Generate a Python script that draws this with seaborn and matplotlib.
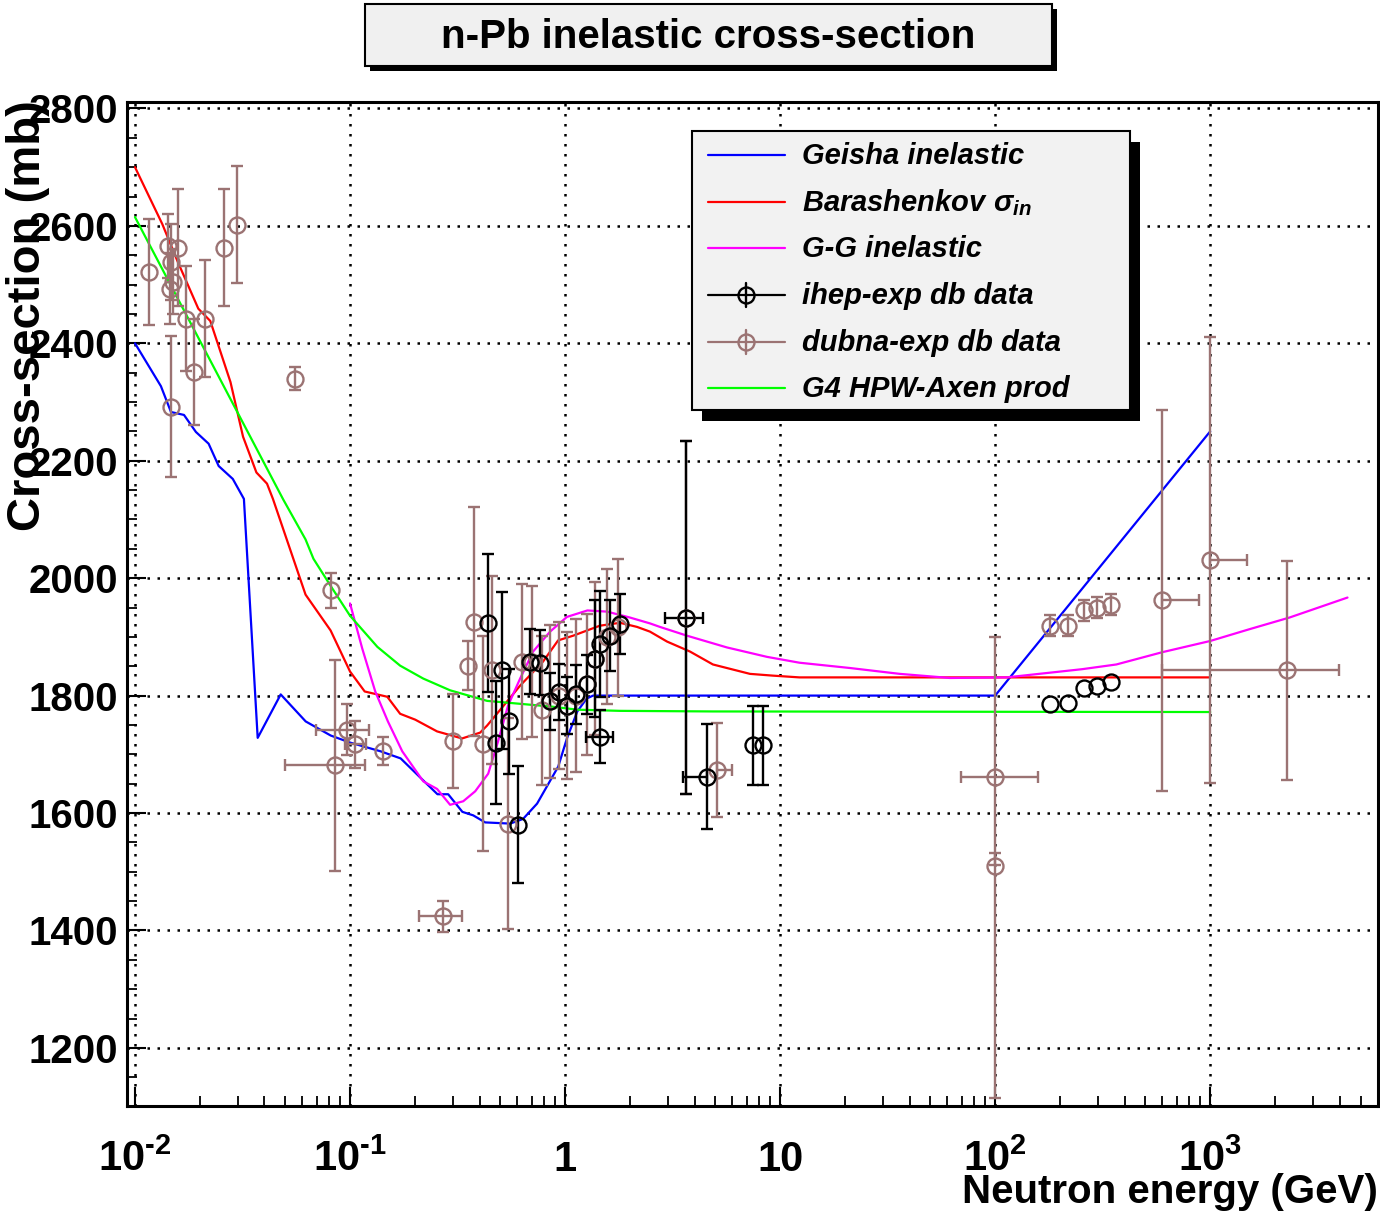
import numpy as np
import matplotlib
matplotlib.use("Agg")
import matplotlib.pyplot as plt
import matplotlib.ticker as mticker
from matplotlib import font_manager
from matplotlib.patches import Rectangle
from matplotlib.lines import Line2D
import seaborn as sns

# ---------------------------------------------------------------- model curves
geisha_e = [0.010, 0.0132, 0.0147, 0.0169, 0.0192, 0.0220, 0.0245, 0.0285, 0.0321,
            0.0372, 0.0476, 0.0622, 0.0813, 0.100, 0.139, 0.172, 0.224, 0.255, 0.286,
            0.333, 0.374, 0.425, 0.556, 0.638, 0.741, 0.929, 1.02, 1.14, 1.26, 1.35,
            100.0, 1000.0]
geisha_xs = [2400, 2327, 2283, 2278, 2249, 2229, 2191, 2169, 2135,
             1728, 1802, 1756, 1732, 1720, 1705, 1693, 1652, 1632, 1632,
             1602, 1596, 1584, 1582, 1590, 1616, 1679, 1727, 1773, 1795, 1800,
             1800, 2250]

barash_e = [0.0100, 0.0134, 0.0158, 0.0197, 0.0224, 0.0278, 0.0318, 0.0367, 0.0411,
            0.0438, 0.0621, 0.0812, 0.100, 0.117, 0.149, 0.171, 0.201, 0.254, 0.332,
            0.403, 0.434, 0.513, 0.618, 0.790, 0.928, 1.09, 1.45, 1.80, 2.16, 2.48,
            2.98, 3.81, 4.87, 7.24, 9.25, 12.3, 1000.0]
barash_xs = [2700, 2603, 2539, 2459, 2438, 2334, 2241, 2180, 2161,
             2135, 1972, 1911, 1841, 1807, 1798, 1769, 1759, 1739, 1727,
             1737, 1749, 1781, 1817, 1858, 1894, 1902, 1919, 1924, 1917, 1909,
             1892, 1875, 1853, 1837, 1834, 1831, 1831]

gg_e = [0.100, 0.114, 0.131, 0.150, 0.175, 0.219, 0.254, 0.292, 0.336, 0.382, 0.439,
        0.488, 0.543, 0.618, 0.710, 0.852, 1.02, 1.27, 1.57, 2.00, 2.48, 2.76, 3.69,
        5.66, 8.68, 12.3, 21.1, 36.0, 61.6, 113.0, 254.0, 366.0, 600.0, 1000.0,
        1520.0, 2340.0, 4350.0]
gg_xs = [1957, 1880, 1807, 1756, 1705, 1654, 1641, 1614, 1620, 1637, 1667,
         1722, 1783, 1829, 1875, 1909, 1934, 1945, 1943, 1933, 1923, 1917, 1902,
         1882, 1866, 1856, 1847, 1837, 1830, 1831, 1845, 1853, 1874, 1893,
         1913, 1933, 1967]

axen_e = [0.0100, 0.0489, 0.0621, 0.0676, 0.0812, 0.100, 0.134, 0.171, 0.219, 0.292,
          0.434, 0.618, 0.880, 1.14, 1.80, 4.87, 1000.0]
axen_xs = [2615, 2134, 2066, 2033, 1987, 1936, 1883, 1851, 1829, 1809,
           1791, 1786, 1781, 1776, 1774, 1773, 1772]

# ---------------------------------------------------------------- measurements
# energy (GeV), cross-section (mb), lower/upper y errors, lower/upper energy bounds
dubna_e = [0.0116, 0.0142, 0.0145, 0.0147, 0.0150, 0.0159, 0.0147, 0.0172, 0.0188,
           0.0211, 0.0259, 0.0297, 0.0553, 0.082, 0.0847, 0.0964, 0.106, 0.1416, 0.272,
           0.302, 0.355, 0.378, 0.416, 0.458, 0.544, 0.631, 0.70, 0.78, 0.85, 0.94,
           1.02, 1.12, 1.26, 1.38, 1.57, 1.76, 3.64, 5.07,
           100.0, 100.0, 180.0, 218.0, 259.0, 297.0, 345.0, 596.0, 1000.0, 2265.0]
dubna_xs = [2522, 2566, 2493, 2539, 2505, 2563, 2292, 2442, 2351,
            2442, 2563, 2602, 2340, 1979, 1681, 1742, 1717, 1706, 1424,
            1722, 1851, 1926, 1718, 1843, 1582, 1858, 1858, 1775, 1790, 1800,
            1783, 1800, 1819, 1863, 1900, 1916, 1933, 1673,
            1662, 1510, 1919, 1919, 1945, 1950, 1955, 1962, 2031, 1843]
dubna_dlo = [90, 55, 60, 65, 55, 100, 120, 90, 90,
             100, 100, 100, 20, 29, 180, 44, 40, 24, 27,
             80, 42, 195, 183, 160, 180, 132, 128, 127, 130, 125,
             125, 130, 120, 130, 115, 117, 300, 80,
             150, 395, 18, 18, 18, 18, 18, 325, 380, 187]
dubna_dhi = [90, 55, 60, 65, 55, 100, 120, 90, 90,
             100, 100, 100, 20, 29, 180, 44, 40, 24, 27,
             80, 42, 195, 183, 160, 180, 132, 128, 127, 130, 125,
             125, 130, 120, 130, 115, 117, 300, 80,
             238, 22, 18, 18, 18, 18, 18, 325, 380, 187]
dubna_elo = [0.0116, 0.0142, 0.0145, 0.0147, 0.0150, 0.0159, 0.0147, 0.0172, 0.0188,
             0.0211, 0.0259, 0.0297, 0.0553, 0.082, 0.0498, 0.0694, 0.095, 0.1416, 0.21,
             0.302, 0.355, 0.378, 0.416, 0.458, 0.544, 0.631, 0.70, 0.78, 0.85, 0.94,
             1.02, 1.12, 1.26, 1.38, 1.57, 1.76, 3.64, 5.07,
             69.5, 100.0, 180.0, 218.0, 259.0, 297.0, 345.0, 596.0, 1000.0, 596.0]
dubna_ehi = [0.0116, 0.0142, 0.0145, 0.0147, 0.0150, 0.0159, 0.0147, 0.0172, 0.0188,
             0.0211, 0.0259, 0.0297, 0.0553, 0.082, 0.117, 0.122, 0.119, 0.1416, 0.333,
             0.302, 0.355, 0.378, 0.416, 0.458, 0.544, 0.631, 0.70, 0.78, 0.85, 0.94,
             1.02, 1.12, 1.26, 1.38, 1.57, 1.76, 3.64, 6.0,
             158.0, 100.0, 180.0, 218.0, 259.0, 297.0, 345.0, 885.0, 1476.0, 3960.0]

ihep_e = [0.44, 0.478, 0.51, 0.55, 0.605, 0.688, 0.766, 0.852, 0.938, 1.02, 1.12,
          1.26, 1.38, 1.45, 1.62, 1.80, 1.45, 3.64, 4.56, 7.45, 8.29,
          180.0, 218.0, 259.0, 297.0, 345.0]
ihep_xs = [1924, 1720, 1843, 1756, 1580, 1858, 1856, 1790, 1806, 1783, 1802,
           1819, 1863, 1888, 1902, 1922, 1730, 1933, 1662, 1715, 1715,
           1786, 1788, 1813, 1817, 1824]
ihep_dy = [118, 105, 134, 90, 100, 55, 55, 48, 48, 48, 50,
           50, 100, 90, 60, 51, 45, 300, 90, 67, 67,
           0, 0, 0, 0, 0]
ihep_elo = [0.44, 0.478, 0.51, 0.55, 0.605, 0.688, 0.766, 0.852, 0.938, 1.02, 1.12,
            1.26, 1.38, 1.45, 1.62, 1.80, 1.25, 2.91, 3.53, 7.45, 8.29,
            180.0, 218.0, 259.0, 297.0, 345.0]
ihep_ehi = [0.44, 0.478, 0.51, 0.55, 0.605, 0.688, 0.766, 0.852, 0.938, 1.02, 1.12,
            1.26, 1.38, 1.45, 1.62, 1.80, 1.67, 4.37, 4.56, 7.45, 8.29,
            180.0, 218.0, 259.0, 297.0, 345.0]

# ---------------------------------------------------------------- axis labelling
x_ticks = [0.01, 0.1, 1, 10, 100, 1000]
x_tick_labels = [r"$10^{\text{-}2}$", r"$10^{\text{-}1}$", "1", "10",
                 r"$10^{2}$", r"$10^{3}$"]
y_ticks = [1200, 1400, 1600, 1800, 2000, 2200, 2400, 2600, 2800]
y_tick_labels = ["1200", "1400", "1600", "1800", "2000", "2200", "2400", "2600", "2800"]

title_text = "n-Pb inelastic cross-section"
x_title = "Neutron energy (GeV)"
y_title = "Cross-section (mb)"
legend_labels = ["Geisha inelastic", r"Barashenkov $\sigma_{\mathit{in}}$", "G-G inelastic",
                 "ihep-exp db data", "dubna-exp db data", "G4 HPW-Axen prod"]

BLUE, RED, MAGENTA, GREEN = "#0000ff", "#ff0000", "#ff00ff", "#00ff00"
DUBNA = "#9b7373"
IHEP = "#000000"

# ---------------------------------------------------------------- style
sns.set_style("white", rc={"axes.edgecolor": "black", "text.color": "black",
                           "xtick.color": "black", "ytick.color": "black",
                           "axes.labelcolor": "black"})
available = {f.name for f in font_manager.fontManager.ttflist}
NARROW = "Liberation Sans Narrow" if "Liberation Sans Narrow" in available else "Liberation Sans"
plt.rcParams["font.family"] = ["Liberation Sans", "DejaVu Sans"]
plt.rcParams["mathtext.fontset"] = "custom"
plt.rcParams["mathtext.rm"] = f"{NARROW}:bold"
plt.rcParams["mathtext.bf"] = f"{NARROW}:bold"
plt.rcParams["mathtext.it"] = "Liberation Sans:italic:bold"
plt.rcParams["mathtext.sf"] = f"{NARROW}:bold"

W, H = 1380, 1214
fig = plt.figure(figsize=(W / 100, H / 100), dpi=100)
fig.patch.set_facecolor("white")


def fx(px):
    return px / W


def fy(py):
    return 1 - py / H


ax = fig.add_axes([fx(127), fy(1106), fx(1378) - fx(127), fy(102) - fy(1106)])
ax.set_xscale("log")
ax.set_xlim(0.00918, 6030)
ax.set_ylim(1101, 2811)

# ---------------------------------------------------------------- curves
for e, s, c in [(geisha_e, geisha_xs, BLUE), (barash_e, barash_xs, RED),
                (gg_e, gg_xs, MAGENTA), (axen_e, axen_xs, GREEN)]:
    sns.lineplot(x=e, y=s, ax=ax, color=c, linewidth=1.6, sort=False,
                 estimator=None, legend=False, zorder=3)


# ---------------------------------------------------------------- data points
def draw_points(e, s, dlo, dhi, elo, ehi, color):
    e = np.asarray(e, float)
    s = np.asarray(s, float)
    dlo = np.asarray(dlo, float)
    dhi = np.asarray(dhi, float)
    xlo = e - np.asarray(elo, float)
    xhi = np.asarray(ehi, float) - e
    has_x = (xlo + xhi) > 0
    has_y = (dlo + dhi) > 0
    for mx in (False, True):
        for my in (False, True):
            m = (has_x == mx) & (has_y == my)
            if not m.any():
                continue
            ax.errorbar(e[m], s[m],
                        xerr=np.vstack([xlo[m], xhi[m]]) if mx else None,
                        yerr=np.vstack([dlo[m], dhi[m]]) if my else None,
                        fmt="o", ms=11.5, mfc="none", mec=color, mew=1.7,
                        ecolor=color, elinewidth=1.7, capsize=4.5, capthick=1.7,
                        zorder=4)


draw_points(dubna_e, dubna_xs, dubna_dlo, dubna_dhi, dubna_elo, dubna_ehi, DUBNA)
draw_points(ihep_e, ihep_xs, ihep_dy, ihep_dy, ihep_elo, ihep_ehi, IHEP)

# ---------------------------------------------------------------- axes cosmetics
ax.set_axisbelow(True)
ax.grid(True, which="major", axis="both", color="black",
        linestyle=(0, (1, 3)), linewidth=1.8)
for sp in ax.spines.values():
    sp.set_linewidth(2.2)
    sp.set_color("black")

ax.xaxis.set_major_locator(mticker.FixedLocator(x_ticks))
ax.xaxis.set_major_formatter(mticker.FixedFormatter(x_tick_labels))
ax.xaxis.set_minor_locator(mticker.LogLocator(base=10, subs=np.arange(2, 10), numticks=20))
ax.xaxis.set_minor_formatter(mticker.NullFormatter())
ax.yaxis.set_major_locator(mticker.FixedLocator(y_ticks))
ax.yaxis.set_major_formatter(mticker.FixedFormatter(y_tick_labels))
ax.yaxis.set_minor_locator(mticker.MultipleLocator(50))

ax.tick_params(axis="both", which="major", direction="in", length=14, width=1.5,
               bottom=True, left=True, top=False, right=False)
ax.tick_params(axis="both", which="minor", direction="in", length=7, width=1.3,
               bottom=True, left=True, top=False, right=False)
ax.tick_params(axis="y", which="major", pad=6.5, labelsize=29)
ax.tick_params(axis="x", which="major", pad=47, labelsize=30)
for lbl in ax.get_yticklabels():
    lbl.set_fontweight("bold")
    lbl.set_family(["Liberation Sans", "DejaVu Sans"])
for lbl in ax.get_xticklabels():
    lbl.set_fontweight("bold")
    lbl.set_family([NARROW, "Liberation Sans", "DejaVu Sans"])
    lbl.set_verticalalignment("baseline")
ax.set_xlabel("")
ax.set_ylabel("")

# axis titles
fig.text(fx(1378), fy(1203), x_title, ha="right", va="baseline", fontsize=29,
         fontweight="bold", family=[NARROW, "Liberation Sans", "DejaVu Sans"])
fig.text(fx(28), fy(100), y_title, ha="center", va="top", rotation=90, fontsize=34,
         fontweight="bold", family=[NARROW, "Liberation Sans", "DejaVu Sans"])

# ---------------------------------------------------------------- title box
tx0, ty0, tx1, ty1 = 365, 4, 1052, 66
fig.add_artist(Rectangle((fx(tx0 + 5), fy(ty1 + 5)), fx(tx1 - tx0), fy(ty0) - fy(ty1),
                         transform=fig.transFigure, facecolor="black",
                         edgecolor="none", zorder=5))
fig.add_artist(Rectangle((fx(tx0), fy(ty1)), fx(tx1 - tx0), fy(ty0) - fy(ty1),
                         transform=fig.transFigure, facecolor="#f0f0f0",
                         edgecolor="black", linewidth=1.5, zorder=6))
fig.text(fx((tx0 + tx1) / 2), fy(37), title_text, ha="center", va="center",
         fontsize=29, fontweight="bold", zorder=7,
         family=[NARROW, "Liberation Sans", "DejaVu Sans"])

# ---------------------------------------------------------------- legend box
lx0, ly0, lx1, ly1 = 692, 131, 1130, 410
fig.add_artist(Rectangle((fx(lx0 + 10), fy(ly1 + 11)), fx(lx1 - lx0), fy(ly0) - fy(ly1),
                         transform=fig.transFigure, facecolor="black",
                         edgecolor="none", zorder=5))
fig.add_artist(Rectangle((fx(lx0), fy(ly1)), fx(lx1 - lx0), fy(ly0) - fy(ly1),
                         transform=fig.transFigure, facecolor="#f2f2f2",
                         edgecolor="black", linewidth=1.5, zorder=6))
rows = [155, 202, 248, 295, 342, 388]
row_styles = [(BLUE, False), (RED, False), (MAGENTA, False),
              (IHEP, True), (DUBNA, True), (GREEN, False)]
for y, (c, is_pts), lab in zip(rows, row_styles, legend_labels):
    fig.add_artist(Line2D([fx(708), fx(785)], [fy(y), fy(y)], transform=fig.transFigure,
                          color=c, linewidth=1.6, zorder=7))
    if is_pts:
        fig.add_artist(Line2D([fx(746)], [fy(y)], transform=fig.transFigure, marker="o",
                              ms=11.5, mfc="none", mec=c, mew=1.7, zorder=7))
        fig.add_artist(Line2D([fx(746), fx(746)], [fy(y - 12), fy(y + 12)],
                              transform=fig.transFigure, color=c, linewidth=1.7, zorder=7))
    fig.text(fx(802), fy(y + 1), lab, ha="left", va="center", fontsize=21,
             fontweight="bold", fontstyle="italic", zorder=8,
             family=["Liberation Sans", "DejaVu Sans"])

fig.savefig("out.png", dpi=100)
